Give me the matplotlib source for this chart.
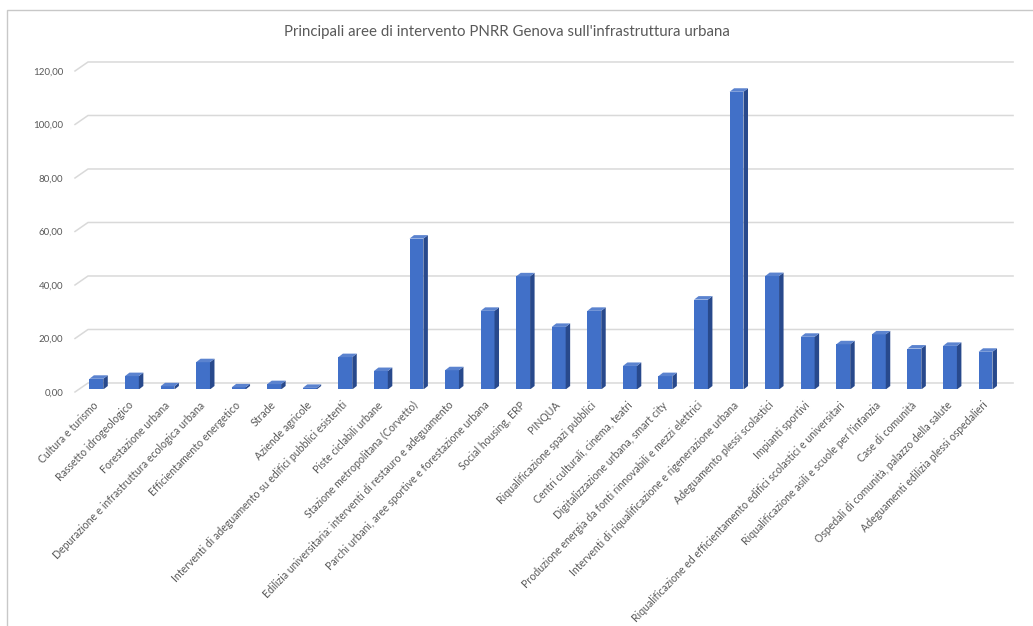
import matplotlib
matplotlib.use("Agg")
import matplotlib.pyplot as plt
from matplotlib.patches import Polygon, Rectangle
from matplotlib.transforms import ScaledTranslation

# --- data -------------------------------------------------------------
categories = [
    "Cultura e turismo",
    "Rassetto idrogeologico",
    "Forestazione urbana",
    "Depurazione e infrastruttura ecologica urbana",
    "Efficientamento energetico",
    "Strade",
    "Aziende agricole",
    "Interventi di adeguamento su edifici pubblici esistenti",
    "Piste ciclabili urbane",
    "Stazione metropolitana (Corvetto)",
    "Edilizia universitaria: interventi di restauro e adeguamento",
    "Parchi urbani, aree sportive e forestazione urbana",
    "Social housing, ERP",
    "PINQUA",
    "Riqualificazione spazi pubblici",
    "Centri culturali, cinema, teatri",
    "Digitalizzazione urbana, smart city",
    "Produzione energia da fonti rinnovabili e mezzi elettrici",
    "Interventi di riqualificazione e rigenerazione urbana",
    "Adeguamento plessi scolastici",
    "Impianti sportivi",
    "Riqualificazione ed efficientamento edifici scolastici e universitari",
    "Riqualificazione asili e scuole per l'infanzia",
    "Case di comunità",
    "Ospedali di comunità, palazzo della salute",
    "Adeguamenti edilizia plessi ospedalieri",
]
values = [
    4.0, 5.0, 1.2, 10.2, 0.8, 2.0, 0.6, 12.1, 6.9, 56.4, 7.2, 29.4, 42.3,
    23.4, 29.4, 8.8, 5.0, 33.6, 111.3, 42.4, 19.7, 16.9, 20.6, 15.3, 16.3, 14.1,
]
ytick_values = [0, 20, 40, 60, 80, 100, 120]
title = "Principali aree di intervento PNRR Genova sull'infrastruttura urbana"

# --- style ------------------------------------------------------------
plt.rcParams["font.family"] = ["Lato", "DejaVu Sans"]
text_color = "#595959"
grid_color = "#D9D9D9"
front_color = "#4170C8"
side_color = "#28498C"
top_color = "#5B83CF"

fig = plt.figure(figsize=(10.33, 6.26), dpi=100)
ax = fig.add_axes([0.0726, 0.3778, 0.9052, 0.5128])
xmin, xmax = -0.6, 25.69
ymax = 120
ax.set_xlim(xmin, xmax)
ax.set_ylim(0, ymax)
for s in ax.spines.values():
    s.set_visible(False)
ax.patch.set_alpha(0)

# data units per display pixel
ux = (xmax - xmin) / ax.bbox.width
uy = ymax / ax.bbox.height

# pseudo-3D back-wall gridlines with a slanted floor edge on the left
depth_up = 6.5   # px the back wall sits above the bar fronts
front_dn = 2.5   # px the front edge sits below the bar fronts
for v in ytick_values:
    yb = v + depth_up * uy
    ax.plot([xmin, xmin + 13 * ux, xmax + 3 * ux],
            [v - front_dn * uy, yb, yb],
            color=grid_color, lw=1.1, clip_on=False, zorder=0)

# bars: front face, top face and right side face
x = list(range(len(categories)))
bw = 0.39
dx, dy = 4.5 * ux, 3.5 * uy
ax.bar(x, values, width=bw, color=front_color, zorder=3, linewidth=0)
for xi, v in zip(x, values):
    xl, xr = xi - bw / 2, xi + bw / 2
    side = Polygon([(xr, 0), (xr, v), (xr + dx, v + dy), (xr + dx, dy)],
                   closed=True, facecolor=side_color, edgecolor="none", zorder=3)
    top = Polygon([(xl, v), (xr, v), (xr + dx, v + dy), (xl + dx, v + dy)],
                  closed=True, facecolor=top_color, edgecolor="none", zorder=3)
    ax.add_patch(side)
    ax.add_patch(top)

# axis labels
ax.set_yticks(ytick_values)
ax.set_yticklabels([f"{v:.2f}".replace(".", ",") for v in ytick_values],
                   fontsize=7, color=text_color)
ax.tick_params(axis="y", length=0, pad=8.5)
shift = ScaledTranslation(0, -front_dn / 100, fig.dpi_scale_trans)
for lab in ax.get_yticklabels():
    lab.set_transform(lab.get_transform() + shift)

ax.set_xticks(x)
ax.set_xticklabels(categories, rotation=46, ha="right", va="center",
                   rotation_mode="anchor", fontsize=7.6, color=text_color)
ax.tick_params(axis="x", length=0, pad=10)

# title
fig.text(507 / 1033, 1 - 32 / 626, title, ha="center", va="center",
         fontsize=10.8, color=text_color)

# chart frame
fig.patches.append(Rectangle((7 / 1033, -0.1), 1.2, 1 - 10 / 626 + 0.1,
                             transform=fig.transFigure, fill=False,
                             edgecolor="#C8C8C8", lw=1))

fig.savefig("out.png", dpi=100)
